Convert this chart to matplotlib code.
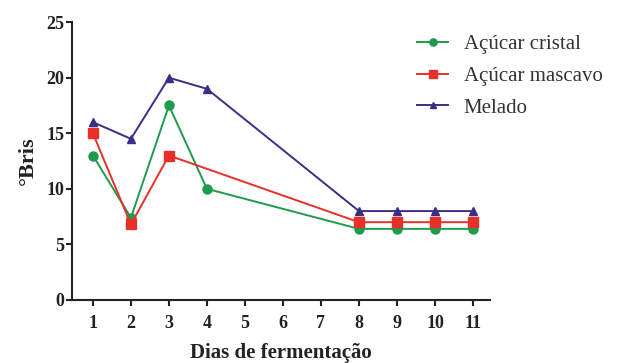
import matplotlib
matplotlib.use("Agg")
import numpy as np
import matplotlib.pyplot as plt

plt.rcParams['font.family'] = ['Liberation Serif', 'DejaVu Serif']

# days shown on the x axis and measured days
dias_ticks = [1, 2, 3, 4, 5, 6, 7, 8, 9, 10, 11]
dias = [1, 2, 3, 4, 8, 9, 10, 11]
dias_mascavo = [1, 2, 3, 8, 9, 10, 11]

# °Brix values
cristal = [13, 7.4, 17.5, 10, 6.4, 6.4, 6.4, 6.4]
mascavo = [15, 6.8, 13, 7, 7, 7, 7]
melado = [16, 14.5, 20, 19, 8, 8, 8, 8]

labels = ['Açúcar cristal', 'Açúcar mascavo', 'Melado']

fig = plt.figure(figsize=(6.18, 3.63), dpi=100)
ax = fig.add_axes([0.1165, 0.1736, 0.6765, 0.7654])

ax.plot(dias, cristal, color='#1e9b4c', marker='o', markersize=6.5, lw=1.4, label=labels[0])
ax.plot(dias_mascavo, mascavo, color='#e8302a', marker='s', markersize=6.5, lw=1.4, label=labels[1])
ax.plot(dias, melado, color='#3a2f86', marker='^', markersize=6, lw=1.4, label=labels[2])

ax.set_xlim(0.45, 11.45)
ax.set_ylim(0, 25)
ax.set_xticks(dias_ticks)
ax.set_yticks([0, 5, 10, 15, 20, 25])

for s in ['top', 'right']:
    ax.spines[s].set_visible(False)
for s in ['left', 'bottom']:
    ax.spines[s].set_linewidth(1.5)
    ax.spines[s].set_color('#222222')

ax.tick_params(direction='out', length=4.5, width=1.5, color='#222222',
               labelsize=13, labelcolor='#222222')
ax.tick_params(axis='x', pad=6)
ax.tick_params(axis='y', pad=1)
for lab in ax.get_xticklabels() + ax.get_yticklabels():
    lab.set_fontweight('bold')

ax.set_xlabel('Dias de fermentação', fontsize=15, fontweight='bold', color='#222222', labelpad=8)
ax.set_ylabel('°Bris', fontsize=16, fontweight='bold', color='#222222', labelpad=6)

leg = ax.legend(loc='upper left', bbox_to_anchor=(0.825, 0.955), frameon=False,
                borderaxespad=0, borderpad=0,
                fontsize=15, handlelength=1.5, handletextpad=0.75, labelspacing=0.58,
                markerscale=0.8)
for t in leg.get_texts():
    t.set_color('#333333')

fig.savefig('out.png', dpi=100)
